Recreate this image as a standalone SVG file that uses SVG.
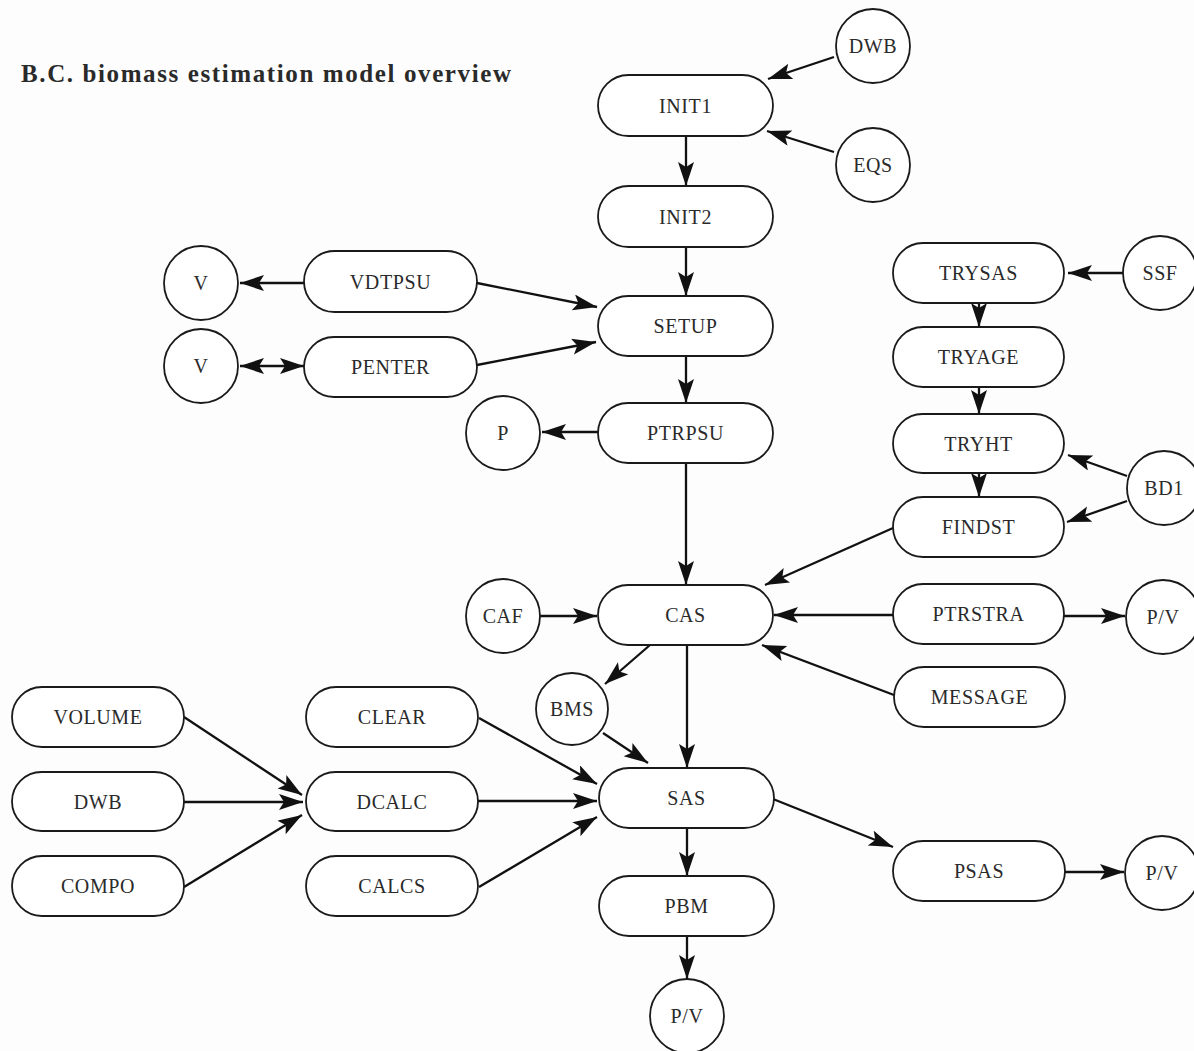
<svg xmlns="http://www.w3.org/2000/svg" width="1194" height="1051" viewBox="0 0 1194 1051">
<defs>
<marker id="ah" markerUnits="userSpaceOnUse" markerWidth="26" markerHeight="18" refX="24" refY="8" orient="auto-start-reverse" viewBox="0 0 26 18">
<path d="M0,0 L24,8 L0,16 L5,8 z" fill="#111"/>
</marker>
</defs>
<style>
.bg{fill:#fdfdfd}
.n rect,.n circle{fill:#fff;stroke:#1a1a1a;stroke-width:1.8}
.n text{font-family:"Liberation Serif","Times New Roman",serif;font-size:20px;letter-spacing:0.6px;fill:#2a2a2a;text-anchor:middle;dominant-baseline:central}
.c line{stroke:#111;stroke-width:2.3;fill:none;marker-end:url(#ah)}
.title{font-family:"Liberation Serif","Times New Roman",serif;font-weight:bold;font-size:25px;fill:#2a2a2a}
</style>
<rect class="bg" width="1194" height="1051"/>
<text class="title" x="21" y="82" textLength="490" lengthAdjust="spacing">B.C. biomass estimation model overview</text>

<g class="c" id="connectors">
<line x1="834" y1="57" x2="768" y2="79"/>
<line x1="834" y1="152" x2="767" y2="131"/>
<line x1="686" y1="136" x2="686" y2="186"/>
<line x1="686" y1="247" x2="686" y2="296"/>
<line x1="304" y1="283" x2="240" y2="283"/>
<line x1="240" y1="366" x2="304" y2="366" style="marker-start:url(#ah)"/>
<line x1="477" y1="283" x2="597" y2="307"/>
<line x1="477" y1="365" x2="596" y2="342"/>
<line x1="686" y1="356" x2="686" y2="403"/>
<line x1="598" y1="432" x2="542" y2="432"/>
<line x1="686" y1="463" x2="686" y2="585"/>
<line x1="1123" y1="273" x2="1068" y2="273"/>
<line x1="979" y1="303" x2="979" y2="327"/>
<line x1="979" y1="387" x2="979" y2="414"/>
<line x1="979" y1="473" x2="979" y2="497"/>
<line x1="1127" y1="476" x2="1068" y2="455"/>
<line x1="1127" y1="501" x2="1067" y2="522"/>
<line x1="893" y1="528" x2="765" y2="585"/>
<line x1="540" y1="616" x2="597" y2="616"/>
<line x1="893" y1="615" x2="774" y2="615"/>
<line x1="1064" y1="616" x2="1125" y2="616"/>
<line x1="894" y1="695" x2="762" y2="645"/>
<line x1="650" y1="645" x2="605" y2="684"/>
<line x1="687" y1="645" x2="687" y2="768"/>
<line x1="603" y1="733" x2="648" y2="763"/>
<line x1="184" y1="717" x2="302" y2="795"/>
<line x1="184" y1="802" x2="303" y2="802"/>
<line x1="184" y1="887" x2="302" y2="815"/>
<line x1="479" y1="718" x2="597" y2="784"/>
<line x1="478" y1="801" x2="597" y2="801"/>
<line x1="479" y1="887" x2="597" y2="817"/>
<line x1="687" y1="828" x2="687" y2="876"/>
<line x1="687" y1="936" x2="687" y2="979"/>
<line x1="773" y1="799" x2="893" y2="847"/>
<line x1="1065" y1="872" x2="1124" y2="872"/>
</g>

<g class="n" id="INIT1"><rect x="598" y="75" width="175" height="61" rx="30.5"/><text x="685.5" y="105.5">INIT1</text></g>
<g class="n" id="INIT2"><rect x="598" y="186" width="175" height="61" rx="30.5"/><text x="685.5" y="216.5">INIT2</text></g>
<g class="n" id="SETUP"><rect x="598" y="296" width="175" height="60" rx="30"/><text x="685.5" y="326">SETUP</text></g>
<g class="n" id="PTRPSU"><rect x="598" y="403" width="175" height="60" rx="30"/><text x="685.5" y="433">PTRPSU</text></g>
<g class="n" id="CAS"><rect x="598" y="585" width="175" height="60" rx="30"/><text x="685.5" y="615">CAS</text></g>
<g class="n" id="SAS"><rect x="599" y="768" width="175" height="60" rx="30"/><text x="686.5" y="798">SAS</text></g>
<g class="n" id="PBM"><rect x="599" y="876" width="175" height="60" rx="30"/><text x="686.5" y="906">PBM</text></g>
<g class="n" id="VDTPSU"><rect x="304" y="251" width="173" height="61" rx="30.5"/><text x="390.5" y="281.5">VDTPSU</text></g>
<g class="n" id="PENTER"><rect x="304" y="337" width="173" height="60" rx="30"/><text x="390.5" y="367">PENTER</text></g>
<g class="n" id="TRYSAS"><rect x="893" y="243" width="171" height="60" rx="30"/><text x="978.5" y="273">TRYSAS</text></g>
<g class="n" id="TRYAGE"><rect x="893" y="327" width="171" height="60" rx="30"/><text x="978.5" y="357">TRYAGE</text></g>
<g class="n" id="TRYHT"><rect x="893" y="414" width="171" height="59" rx="29.5"/><text x="978.5" y="443.5">TRYHT</text></g>
<g class="n" id="FINDST"><rect x="893" y="497" width="171" height="60" rx="30"/><text x="978.5" y="527">FINDST</text></g>
<g class="n" id="PTRSTRA"><rect x="893" y="584" width="171" height="60" rx="30"/><text x="978.5" y="614">PTRSTRA</text></g>
<g class="n" id="MESSAGE"><rect x="894" y="667" width="171" height="60" rx="30"/><text x="979.5" y="697">MESSAGE</text></g>
<g class="n" id="PSAS"><rect x="893" y="841" width="172" height="60" rx="30"/><text x="979" y="871">PSAS</text></g>
<g class="n" id="VOLUME"><rect x="12" y="687" width="172" height="60" rx="30"/><text x="98" y="717">VOLUME</text></g>
<g class="n" id="DWB-box"><rect x="12" y="772" width="172" height="59" rx="29.5"/><text x="98" y="801.5">DWB</text></g>
<g class="n" id="COMPO"><rect x="12" y="856" width="172" height="60" rx="30"/><text x="98" y="886">COMPO</text></g>
<g class="n" id="CLEAR"><rect x="306" y="687" width="172" height="60" rx="30"/><text x="392" y="717">CLEAR</text></g>
<g class="n" id="DCALC"><rect x="306" y="772" width="172" height="59" rx="29.5"/><text x="392" y="801.5">DCALC</text></g>
<g class="n" id="CALCS"><rect x="306" y="856" width="172" height="60" rx="30"/><text x="392" y="886">CALCS</text></g>

<g class="n" id="DWB"><circle cx="873" cy="46" r="37"/><text x="873" y="46">DWB</text></g>
<g class="n" id="EQS"><circle cx="873" cy="165" r="37"/><text x="873" y="165">EQS</text></g>
<g class="n" id="V1"><circle cx="201" cy="283" r="37"/><text x="201" y="283">V</text></g>
<g class="n" id="V2"><circle cx="201" cy="366" r="37"/><text x="201" y="366">V</text></g>
<g class="n" id="P"><circle cx="503" cy="433" r="37"/><text x="503" y="433">P</text></g>
<g class="n" id="SSF"><circle cx="1160" cy="273" r="37"/><text x="1160" y="273">SSF</text></g>
<g class="n" id="BD1"><circle cx="1164" cy="488" r="37"/><text x="1164" y="488">BD1</text></g>
<g class="n" id="CAF"><circle cx="503" cy="616" r="37"/><text x="503" y="616">CAF</text></g>
<g class="n" id="PV1"><circle cx="1163" cy="617" r="37"/><text x="1163" y="617">P/V</text></g>
<g class="n" id="BMS"><circle cx="572" cy="709" r="36"/><text x="572" y="709">BMS</text></g>
<g class="n" id="PV2"><circle cx="1162" cy="873" r="37"/><text x="1162" y="873">P/V</text></g>
<g class="n" id="PV3"><circle cx="687" cy="1016" r="37"/><text x="687" y="1016">P/V</text></g>
</svg>
